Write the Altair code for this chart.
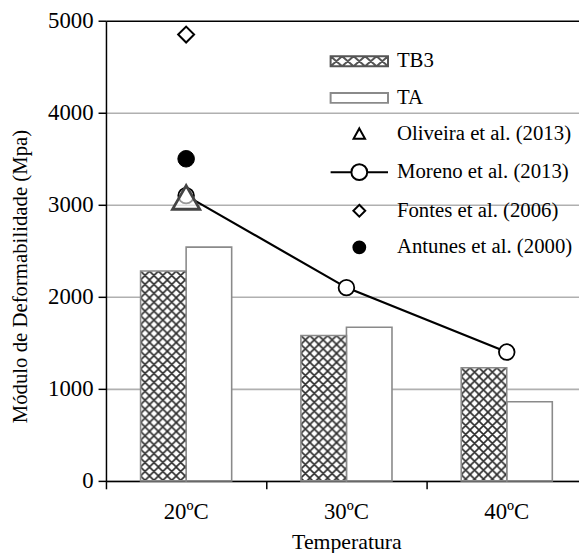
import urllib.parse
import altair as alt
import pandas as pd

# ---- data ----
temps = ["20ºC", "30ºC", "40ºC"]
tb3 = [2280, 1580, 1230]
ta = [2540, 1670, 860]
moreno = [3100, 2100, 1400]
oliveira_temp = ["20ºC"]
oliveira = [3080]
fontes_temp = ["20ºC"]
fontes = [4850]
antunes_temp = ["20ºC"]
antunes = [3500]
legend_labels = ["TB3", "TA", "Oliveira et al. (2013)", "Moreno et al. (2013)",
                 "Fontes et al. (2006)", "Antunes et al. (2000)"]
y_ticks = [0, 1000, 2000, 3000, 4000, 5000]

FONT = "Liberation Serif"

bars = pd.DataFrame(
    {"temp": temps * 2, "serie": ["TB3"] * 3 + ["TA"] * 3, "valor": tb3 + ta}
)
tb3_df = bars[bars.serie == "TB3"]
ta_df = bars[bars.serie == "TA"]
moreno_df = pd.DataFrame({"temp": temps, "valor": moreno})
oli_df = pd.DataFrame({"temp": oliveira_temp, "valor": oliveira})
fon_df = pd.DataFrame({"temp": fontes_temp, "valor": fontes})
ant_df = pd.DataFrame({"temp": antunes_temp, "valor": antunes})
leg_df = pd.DataFrame({"serie": legend_labels})

# cross-hatch image (pattern drawn at native pixel scale)
lines = []
for k in (-9, 0, 9):
    lines.append(f"M-3,{-3 + k}L12,{12 + k}")
    lines.append(f"M12,{-3 + k}L-3,{12 + k}")
hatch_svg = (
    "<svg xmlns='http://www.w3.org/2000/svg'>"
    "<defs><pattern id='h' width='9' height='9' patternUnits='userSpaceOnUse'>"
    f"<path d='{''.join(lines)}' stroke='#2b2b2b' stroke-width='1.6' fill='none'/>"
    "</pattern></defs>"
    "<rect width='100%' height='100%' fill='white'/>"
    "<rect width='100%' height='100%' fill='url(#h)'/></svg>"
)
hatch_url = "data:image/svg+xml;charset=utf-8," + urllib.parse.quote(hatch_svg)

x_scale = alt.Scale(domain=temps, range=[0, 486], paddingInner=0, paddingOuter=0)
xo_scale = alt.Scale(domain=["TB3", "TA"], paddingInner=0, paddingOuter=0.76)
y_scale = alt.Scale(domain=[0, 5000], nice=False)

x_enc = alt.X(
    "temp:N",
    scale=x_scale,
    sort=temps,
    axis=alt.Axis(
        title="Temperatura",
        labelAngle=0,
        bandPosition=0,
        tickSize=8,
        tickColor="black",
        tickWidth=1.5,
        domainColor="black",
        domainWidth=1.5,
        labelFont=FONT,
        labelFontSize=23,
        labelColor="black",
        labelPadding=12,
        titleFont=FONT,
        titleFontSize=22,
        titleFontWeight="normal",
        titleColor="black",
        titlePadding=8,
        grid=False,
    ),
)
y_enc = alt.Y(
    "valor:Q",
    scale=y_scale,
    axis=alt.Axis(
        title="Módulo de Deformabilidade (Mpa)",
        values=y_ticks,
        format="d",
        tickSize=8,
        tickColor="black",
        tickWidth=1.5,
        domainColor="black",
        domainWidth=1.5,
        labelFont=FONT,
        labelFontSize=23,
        labelColor="black",
        labelPadding=5,
        titleFont=FONT,
        titleFontSize=21,
        titleFontWeight="normal",
        titleColor="black",
        titlePadding=17,
        titleY=258,
        grid=True,
        gridColor=alt.condition("datum.value == 5000", alt.value("black"), alt.value("#b0b0b0")),
        gridWidth=1.6,
    ),
)

ta_layer = alt.Chart(ta_df).mark_bar(
    fill="white", stroke="#8a8a8a", strokeWidth=1.6
).encode(x=x_enc, xOffset=alt.XOffset("serie:N", scale=xo_scale), y=y_enc)

tb3_img = alt.Chart(tb3_df).mark_image(aspect=False).encode(
    x=x_enc,
    xOffset=alt.XOffset("serie:N", scale=xo_scale),
    y=y_enc,
    y2=alt.datum(0),
    url=alt.value(hatch_url),
)
tb3_edge = alt.Chart(tb3_df).mark_bar(
    fill="white", fillOpacity=0, stroke="#8a8a8a", strokeWidth=1.6
).encode(x=x_enc, xOffset=alt.XOffset("serie:N", scale=xo_scale), y=y_enc)

moreno_line = alt.Chart(moreno_df).mark_line(color="black", strokeWidth=2.2).encode(
    x=x_enc, y=y_enc
)
moreno_pts = alt.Chart(moreno_df).mark_point(
    shape="circle", filled=True, fill="white", stroke="black", strokeWidth=1.8,
    size=250, opacity=1
).encode(x=x_enc, y=y_enc)
oli_pts = alt.Chart(oli_df).mark_point(
    shape="triangle-up", filled=True, fill="white", stroke="#444444", strokeWidth=2.8,
    size=760, opacity=1, fillOpacity=0.6
).encode(x=x_enc, y=y_enc)
fon_pts = alt.Chart(fon_df).mark_point(
    shape="diamond", filled=True, fill="white", stroke="black", strokeWidth=2,
    size=260, opacity=1
).encode(x=x_enc, y=y_enc)
ant_pts = alt.Chart(ant_df).mark_point(
    shape="circle", filled=True, fill="black", stroke="black", strokeWidth=1,
    size=280, opacity=1
).encode(x=x_enc, y=y_enc)

# legend symbols (paths in symbol units; sqrt(size)/2 = 10 px per unit)
xs = []
for i in range(5):
    a = -2.9 + i * 1.16
    b = a + 1.16
    xs.append(f"M{a:.2f},-0.5L{b:.2f},0.5M{b:.2f},-0.5L{a:.2f},0.5")
rect_path = "M-2.9,-0.5H2.9V0.5H-2.9Z"
shapes = [
    rect_path + "".join(xs),
    rect_path,
    "M0,-0.62L0.58,0.42H-0.58Z",
    "M-2.9,0H-0.8M0.8,0H2.9M-0.8,0A0.8,0.8 0 1,1 0.8,0A0.8,0.8 0 1,1 -0.8,0Z",
    "M0,-0.6L0.6,0L0,0.6L-0.6,0Z",
    "M-0.6,0A0.6,0.6 0 1,1 0.6,0A0.6,0.6 0 1,1 -0.6,0Z",
]
fills = ["white", "white", "white", "white", "white", "black"]
strokes = ["#555555", "#8a8a8a", "black", "black", "black", "black"]

legend = alt.Legend(
    title=None,
    orient="none",
    legendX=245,
    legendY=30,
    symbolSize=400,
    symbolStrokeWidth=2,
    symbolOpacity=1,
    labelFont=FONT,
    labelFontSize=21,
    labelColor="black",
    labelOffset=27,
    rowPadding=16,
    labelLimit=400,
)
leg_layer = alt.Chart(leg_df).mark_point(filled=True, opacity=0, size=400).encode(
    shape=alt.Shape("serie:N", scale=alt.Scale(domain=legend_labels, range=shapes), legend=legend),
    fill=alt.Fill("serie:N", scale=alt.Scale(domain=legend_labels, range=fills), legend=legend),
    stroke=alt.Stroke("serie:N", scale=alt.Scale(domain=legend_labels, range=strokes), legend=legend),
)

chart = (
    alt.layer(ta_layer, tb3_img, tb3_edge, moreno_line, moreno_pts, oli_pts, fon_pts, ant_pts, leg_layer)
    .properties(
        width=478,
        height=465,
        autosize=alt.AutoSizeParams(type="none"),
        padding={"left": 99, "top": 10, "right": 0, "bottom": 70},
        background="white",
    )
    .configure(font=FONT)
    .configure_legend(labelFont=FONT)
    .configure_view(stroke=None)
)

chart.save("out.html", embed_options={"renderer": "svg", "actions": False})
